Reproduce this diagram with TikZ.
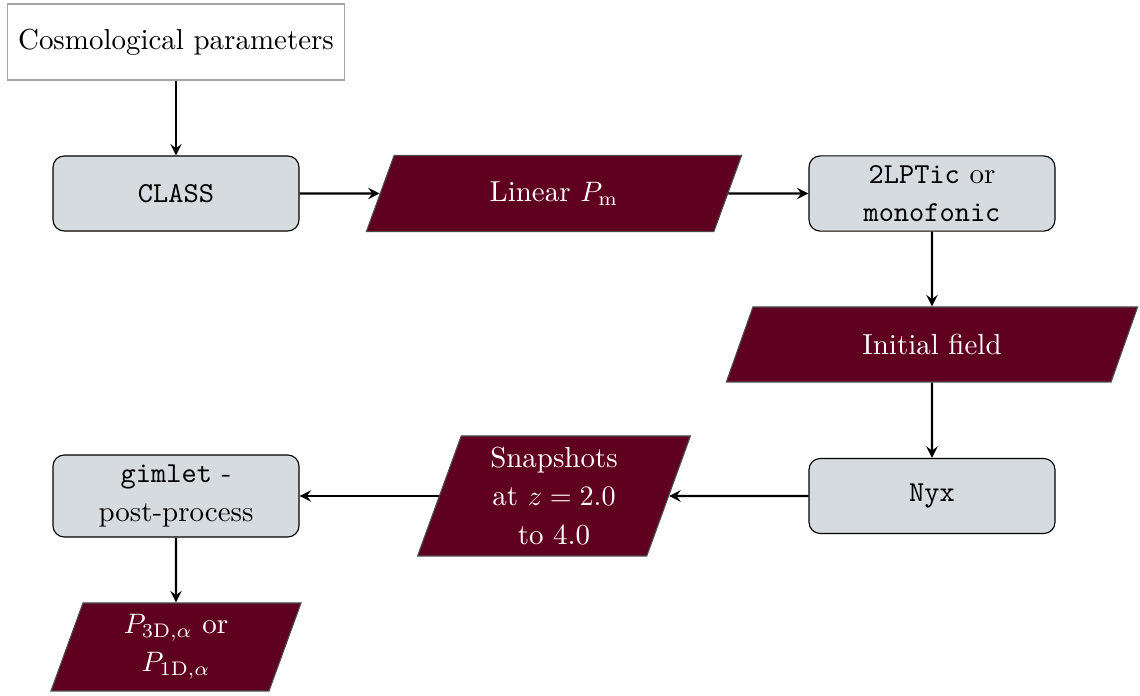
\documentclass[tikz,border=0pt]{standalone}
\usepackage{amsmath}
\usepackage{tikz}
\usetikzlibrary{shapes.geometric}

\definecolor{darkwine}{RGB}{96,0,32}
\definecolor{boxgray}{RGB}{214,219,223}

\tikzset{
    every node/.style={font=\fontsize{10.3}{13.6}\selectfont},
    startbox/.style={draw=gray!70, rectangle, minimum width=4.21cm, minimum height=0.95cm, align=center},
    codebox/.style={draw, rectangle, rounded corners, fill=boxgray, minimum width=3.075cm, minimum height=0.9375cm, align=center},
    databox/.style={draw=black!70, trapezium, trapezium left angle=70, trapezium right angle=110,
        trapezium stretches body=true, fill=darkwine, text=white, align=center, inner ysep=4pt},
    flow/.style={thick, ->, >=stealth}
}

\begin{document}
\begin{tikzpicture}

        \useasboundingbox (0,0) rectangle (14.25,8.7);

        \node[startbox] (cosmo) at (2.2,8.175) {Cosmological parameters};

        \node[codebox] (class) at (2.2,6.281) {\texttt{CLASS}};

        \node[databox, inner ysep=9.3pt, minimum width=4.69cm, minimum height=0.95cm]
            (linpk) at (6.925,6.281) {Linear $P_\mathrm{m}$};

        \node[codebox] (ics) at (11.65,6.281) {\texttt{2LPTic} or\\ \texttt{monofonic}};

        \node[databox, inner ysep=9.3pt, minimum width=5.14cm, minimum height=0.9375cm]
            (initfield) at (11.65,4.394) {Initial field};

        \node[codebox] (nyx) at (11.65,2.5) {\texttt{Nyx}};

        \node[databox, minimum width=3.41cm, minimum height=1.49cm]
            (snaps) at (6.925,2.5) {Snapshots\\ at $z=2.0$\\ to 4.0};

        \node[codebox, minimum height=1.025cm] (gimlet) at (2.2,2.5) {\texttt{gimlet} -\\ post-process};

        \node[databox, minimum width=3.125cm, minimum height=1.1cm]
            (pflux) at (2.2,0.6125) {$P_{\mathrm{3D},\alpha}$ or\\ $P_{\mathrm{1D},\alpha}$};

        \draw[flow]
            (cosmo) -- (class);

        \draw[flow]
            (class) -- (linpk);

        \draw[flow]
            (linpk) -- (ics);

        \draw[flow]
            (ics) -- (initfield);

        \draw[flow]
            (initfield) -- (nyx);

        \draw[flow]
            (nyx) -- (snaps);

        \draw[flow]
            (snaps) -- (gimlet);

        \draw[flow]
            (gimlet) -- (pflux);

\end{tikzpicture}
\end{document}
